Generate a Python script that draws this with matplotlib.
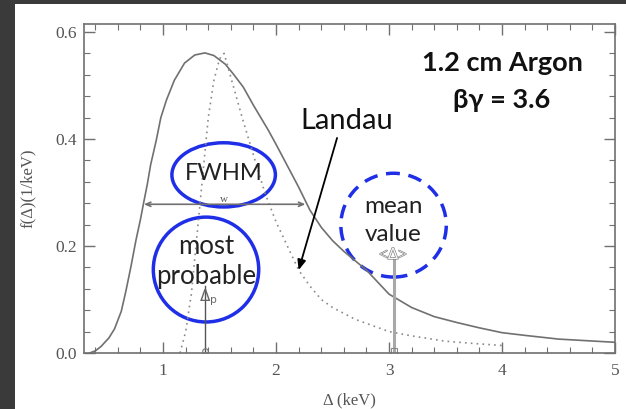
import numpy as np
import matplotlib.pyplot as plt
import matplotlib.patheffects as pe
from matplotlib.patches import Ellipse, Rectangle

# ---------------- DATA ----------------
# broad distribution (solid)
solid_x = [0.35, 0.40, 0.45, 0.48, 0.52, 0.57, 0.63, 0.67, 0.715, 0.76, 0.80, 0.83,
           0.86, 0.89, 0.94, 0.98, 1.03, 1.10, 1.19, 1.28, 1.37, 1.45, 1.55, 1.62,
           1.71, 1.80, 1.93, 2.00, 2.10, 2.20, 2.30, 2.40, 2.50, 2.60, 2.80, 3.00,
           3.20, 3.40, 3.60, 3.80, 4.00, 4.20, 4.50, 5.00]
solid_y = [0.000, 0.004, 0.012, 0.019, 0.028, 0.045, 0.078, 0.115, 0.161, 0.211, 0.250, 0.283,
           0.315, 0.352, 0.398, 0.440, 0.473, 0.510, 0.542, 0.557, 0.561, 0.556, 0.540, 0.522,
           0.497, 0.463, 0.417, 0.390, 0.350, 0.310, 0.267, 0.235, 0.210, 0.190, 0.155, 0.110,
           0.085, 0.068, 0.057, 0.047, 0.038, 0.033, 0.026, 0.020]

# Landau (dotted)
landau_x = [1.15, 1.20, 1.25, 1.30, 1.35, 1.40, 1.45, 1.50, 1.54, 1.60, 1.70, 1.80,
            1.90, 2.00, 2.10, 2.20, 2.30, 2.40, 2.50, 2.70, 3.00, 3.20, 3.50, 3.80, 4.00]
landau_y = [0.000, 0.040, 0.110, 0.220, 0.330, 0.440, 0.510, 0.550, 0.560, 0.515, 0.440, 0.370,
            0.300, 0.245, 0.200, 0.155, 0.125, 0.100, 0.085, 0.063, 0.040, 0.032, 0.022, 0.017, 0.014]

fwhm_x = [0.83, 2.26]      # ends of FWHM bar
fwhm_y = 0.278
mp_x = 1.37                # most probable
mp_top = 0.125
mean_x = 3.04              # mean value
mean_top = 0.178
# -------------------------------------------------------------

GRAY = '#707070'
BLUE = '#1f2fe8'
SANS = ['Lato', 'DejaVu Sans']
SERIF = ['Liberation Serif', 'DejaVu Serif']

fig = plt.figure(figsize=(6.26, 4.09), dpi=100)
fig.patch.set_facecolor('#3a3a3a')
fig.patches.append(Rectangle((15 / 626, 0), 1 - 15 / 626, 1 - 4 / 409,
                             transform=fig.transFigure, facecolor='white',
                             edgecolor='none', zorder=-1))

ax = fig.add_axes([84 / 626, 56 / 409, 531 / 626, 329 / 409])
ax.set_facecolor('white')

ax.plot(solid_x, solid_y, color=GRAY, lw=1.2)
ax.plot(landau_x, landau_y, color='#8a8a8a', lw=1.2, ls=(0, (1, 2.5)))

# FWHM bar
ax.annotate('', xy=(fwhm_x[0], fwhm_y), xytext=(fwhm_x[1], fwhm_y),
            arrowprops=dict(arrowstyle='<->,head_length=0.35,head_width=0.15',
                            color=GRAY, lw=1.2, shrinkA=0, shrinkB=0))
ax.text((fwhm_x[0] + fwhm_x[1]) / 2 - 0.01, 0.287, 'w', fontsize=8, color='#555555',
        family=SERIF, ha='center', va='center')

# most probable marker
ax.plot([mp_x, mp_x], [0, mp_top], color='#555555', lw=1.0)
ax.plot([mp_x], [0.004], marker='o', ms=4, mfc='none', mec='#777777', mew=0.8)
ax.text(mp_x + 0.03, 0.104, r'$\Delta_{\rm p}$', fontsize=11, color='#666666',
        ha='center', va='center', family=SERIF)

# mean value marker
ax.plot([mean_x, mean_x], [0, mean_top], color='#a8a8a8', lw=2.2)
ax.plot([mean_x], [0.004], marker='s', ms=4, mfc='none', mec='#888888', mew=0.8)
ax.text(mean_x, 0.185, r'<$\Delta$>', fontsize=11, color='#f4f4f4',
        ha='center', va='center', family=SERIF,
        path_effects=[pe.withStroke(linewidth=0.9, foreground='#808080')])

# blue ellipses
ax.add_patch(Ellipse((1.536, 0.333), 0.916, 0.120, fill=False, ec=BLUE, lw=2.5))
ax.add_patch(Ellipse((1.38, 0.156), 0.933, 0.196, fill=False, ec=BLUE, lw=2.5))
ax.add_patch(Ellipse((3.04, 0.239), 0.933, 0.194, fill=False, ec=BLUE, lw=2.5,
                     ls=(0, (4, 2.5))))

ax.text(1.536, 0.335, 'FWHM', fontsize=17, family=SANS, color='#222222',
        ha='center', va='center')
ax.text(1.38, 0.199, 'most', fontsize=18.5, family=SANS, color='#222222',
        ha='center', va='center')
ax.text(1.38, 0.143, 'probable', fontsize=18.5, family=SANS, color='#222222',
        ha='center', va='center')
ax.text(3.04, 0.273, 'mean', fontsize=17.5, family=SANS, color='#222222',
        ha='center', va='center')
ax.text(3.04, 0.222, 'value', fontsize=17.5, family=SANS, color='#222222',
        ha='center', va='center')

# Landau label + arrow
ax.text(2.63, 0.434, 'Landau', fontsize=21, family=SANS, color='#111111',
        ha='center', va='center')
ax.annotate('', xy=(2.20, 0.155), xytext=(2.54, 0.402),
            arrowprops=dict(arrowstyle='-|>,head_length=0.6,head_width=0.25',
                            color='black', lw=1.3, shrinkA=0, shrinkB=0))

ax.text(4.0, 0.542, '1.2 cm Argon', fontsize=19.5, fontweight='bold', family=SANS,
        color='#111111', ha='center', va='center')
ax.text(4.0, 0.473, 'βγ = 3.6', fontsize=19.5, fontweight='bold', family=SANS,
        color='#111111', ha='center', va='center')

# axes
ax.set_xlim(0.3, 5.0)
ax.set_ylim(0.0, 0.615)
ax.set_xticks([1, 2, 3, 4, 5])
ax.set_yticks([0.0, 0.2, 0.4, 0.6])
ax.set_yticklabels(['0.0', '0.2', '0.4', '0.6'])
ax.set_xticks(np.arange(0.4, 5.0, 0.2), minor=True)
ax.set_yticks(np.arange(0.04, 0.615, 0.04), minor=True)
ax.tick_params(which='both', direction='in', top=True, right=True, color=GRAY,
               labelcolor='#555555', labelsize=12.5)
ax.tick_params(which='major', length=8, width=1)
ax.tick_params(which='minor', length=4, width=0.8)
ax.tick_params(axis='x', which='major', pad=7)
ax.tick_params(axis='y', which='major', pad=5)
for lab in ax.get_xticklabels() + ax.get_yticklabels():
    lab.set_family(SERIF)
for s in ax.spines.values():
    s.set_color(GRAY)
    s.set_linewidth(1.2)

ax.set_xlabel('Δ (keV)', family=SERIF, fontsize=12, color='#555555', labelpad=10)
ax.set_ylabel('f(Δ)(1/keV)', family=SERIF, fontsize=12, color='#555555', labelpad=14)

fig.savefig('out.png', dpi=100, facecolor=fig.get_facecolor())
